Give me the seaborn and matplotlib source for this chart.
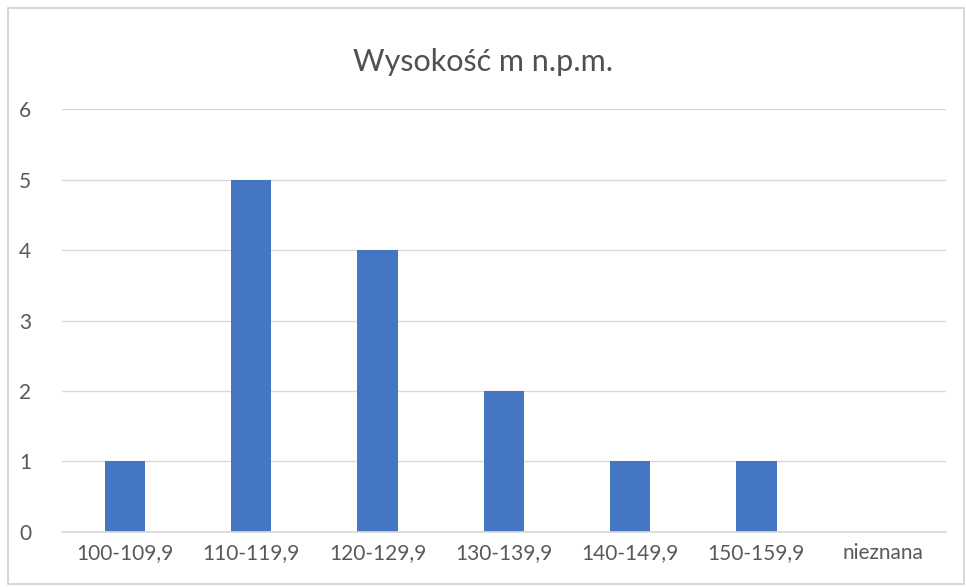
import pandas as pd
import seaborn as sns
import matplotlib.pyplot as plt
from matplotlib.patches import Rectangle

# --- dane ---
kategorie = ["100-109,9", "110-119,9", "120-129,9", "130-139,9",
             "140-149,9", "150-159,9", "nieznana"]
liczba = [1, 5, 4, 2, 1, 1, 0]
tytul = "Wysokość m n.p.m."

df = pd.DataFrame({"kat": kategorie, "n": liczba})

sns.set_theme(style="white")
plt.rcParams["font.family"] = ["Lato", "DejaVu Sans"]

fig = plt.figure(figsize=(9.66, 5.87), dpi=100)
ax = fig.add_axes([0.064, 0.094, 0.915, 0.72])

sns.barplot(data=df, x="kat", y="n", color="#4576C2", saturation=1,
            width=0.32, linewidth=0, ax=ax)

ax.set_ylim(0, 6)
ax.set_xlim(-0.5, len(kategorie) - 0.5)
ax.set_yticks(range(0, 7))
ax.yaxis.grid(True, color="#D9D9D9", linewidth=1)
ax.set_axisbelow(True)
for s in ["top", "right", "left"]:
    ax.spines[s].set_visible(False)
ax.spines["bottom"].set_color("#D9D9D9")
ax.tick_params(axis="both", length=0, labelsize=15, labelcolor="#595959")
ax.tick_params(axis="y", pad=22)
ax.tick_params(axis="x", pad=8)
ax.set_xlabel("")
ax.set_ylabel("")

fig.text(0.5, 0.895, tytul, ha="center", va="center", fontsize=22,
         color="#505050")

# ramka wykresu
fig.patches.append(Rectangle((0.008, 0.005), 0.99, 0.982, transform=fig.transFigure,
                             fill=False, edgecolor="#D0D0D0", linewidth=1.2))

fig.savefig("out.png", dpi=100)
